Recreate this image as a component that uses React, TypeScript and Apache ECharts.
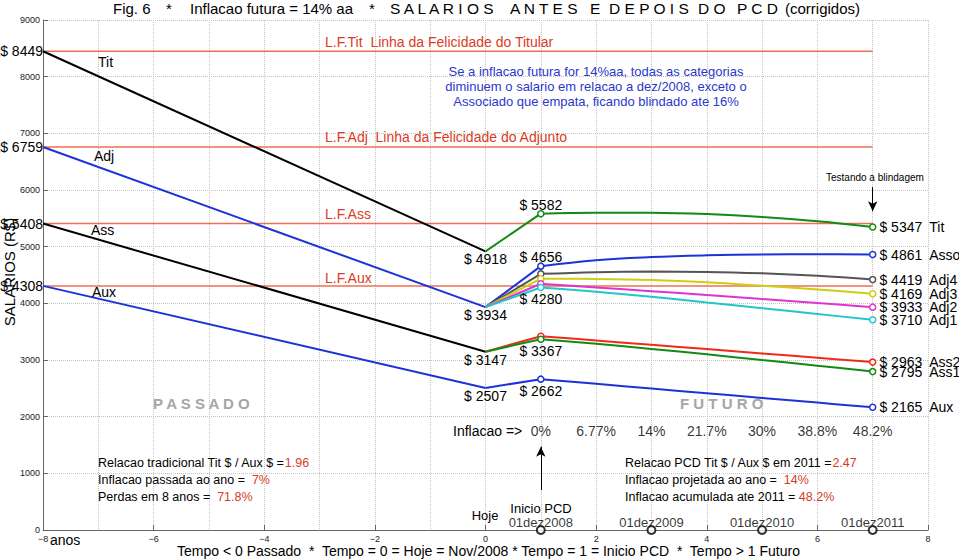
import React, { useEffect, useRef } from "react";
import * as echarts from "echarts";

const FONT = '"Liberation Sans", Arial, Helvetica, sans-serif';

// ---- Past (tempo -8 .. 0) ----
const pastX = [-8, 0];
const pastTit = [8449, 4918];
const pastAdj = [6759, 3934];
const pastAss = [5408, 3147];
const pastAux = [4308, 2507];

// ---- Future (tempo 1 .. 7) ----
const futureX = [1, 2, 3, 4, 5, 6, 7];
const futTit = [5582, 5600, 5598, 5575, 5525, 5450, 5347];
const futAsso = [4656, 4762, 4817, 4847, 4862, 4866, 4861];
const futAdj4 = [4520, 4550, 4560, 4555, 4530, 4485, 4419];
const futAdj3 = [4435, 4430, 4410, 4370, 4310, 4245, 4169];
const futAdj2 = [4345, 4280, 4215, 4145, 4075, 4005, 3933];
const futAdj1 = [4280, 4205, 4115, 4015, 3915, 3812, 3710];
const futAss2 = [3420, 3344, 3268, 3192, 3116, 3040, 2963];
const futAss1 = [3367, 3285, 3195, 3100, 3000, 2900, 2795];
const futAux = [2662, 2579, 2496, 2414, 2331, 2248, 2165];

// ---- Linhas da felicidade ----
const felicidadeX = [-8, 7];
const felicidadeVals = [8449, 6759, 5408, 4308];

// ---- Inflacao labels and dates ----
const inflacaoLabels = ["0%", "6.77%", "14%", "21.7%", "30%", "38.8%", "48.2%"];
const inflacaoLevel = 1747;
const pcdX = [1, 3, 5, 7];
const pcdDates = ["01dez2008", "01dez2009", "01dez2010", "01dez2011"];
const pcdDateLevel = 141;

const C = {
  black: "#000000",
  blue: "#1d33d8",
  green: "#138a13",
  gray: "#555555",
  yellow: "#cfcc14",
  magenta: "#dd35cf",
  cyan: "#22c6c8",
  red: "#ee2b18",
  felic: "#ef6f52",
  redText: "#d83c26",
  blueText: "#2a38cc",
};

type Fut = {
  name: string;
  start: number;
  vals: number[];
  color: string;
  lab1?: { pos: string; dist: number };
};

const futures: Fut[] = [
  { name: "Tit", start: pastTit[1], vals: futTit, color: C.green, lab1: { pos: "top", dist: -2 } },
  { name: "Asso", start: pastAdj[1], vals: futAsso, color: C.blue, lab1: { pos: "top", dist: -2 } },
  { name: "Adj4", start: pastAdj[1], vals: futAdj4, color: C.gray },
  { name: "Adj3", start: pastAdj[1], vals: futAdj3, color: C.yellow },
  { name: "Adj2", start: pastAdj[1], vals: futAdj2, color: C.magenta },
  { name: "Adj1", start: pastAdj[1], vals: futAdj1, color: C.cyan, lab1: { pos: "bottom", dist: 1 } },
  { name: "Ass2", start: pastAss[1], vals: futAss2, color: C.red },
  { name: "Ass1", start: pastAss[1], vals: futAss1, color: C.green, lab1: { pos: "bottom", dist: 1 } },
  { name: "Aux", start: pastAux[1], vals: futAux, color: C.blue, lab1: { pos: "bottom", dist: 1 } },
];

const pasts = [
  { vals: pastTit, color: C.black },
  { vals: pastAdj, color: C.blue },
  { vals: pastAss, color: C.black },
  { vals: pastAux, color: C.blue },
];

function txt(text: string, x: number, y: number, opts: any = {}) {
  return {
    type: "text",
    x,
    y,
    rotation: opts.rotation || 0,
    silent: true,
    z: 100,
    style: {
      text,
      fill: opts.fill || "#000",
      font: `${opts.weight || "normal"} ${opts.size || 14}px ${FONT}`,
      align: opts.align || "left",
      verticalAlign: "middle",
      textAlign: opts.align || "left",
      textVerticalAlign: "middle",
      rich: opts.rich,
    },
  };
}

function richLine(black: string, red: string, x: number, y: number) {
  return txt(`{k|${black}}{r|${red}}`, x, y, {
    size: 12.5,
    rich: {
      k: { fill: "#000", fontSize: 12.5, fontFamily: FONT },
      r: { fill: C.redText, fontSize: 12.5, fontFamily: FONT },
    },
  });
}

export default function App() {
  const ref = useRef<HTMLDivElement>(null);

  useEffect(() => {
    if (!ref.current) return;
    const chart = echarts.init(ref.current, undefined, { renderer: "svg" });

    const series: any[] = [];

    // felicidade lines
    felicidadeVals.forEach((v) => {
      series.push({
        type: "line",
        silent: true,
        symbol: "none",
        showSymbol: true,
        lineStyle: { color: C.felic, width: 1.5 },
        z: 2,
        data: felicidadeX.map((x, i) =>
          i === 0
            ? {
                value: [x, v],
                symbol: "circle",
                symbolSize: 0,
                label: {
                  show: true,
                  position: "left",
                  distance: 0,
                  formatter: `$ ${v}`,
                  color: "#000",
                  fontSize: 14,
                  fontFamily: FONT,
                },
              }
            : { value: [x, v] }
        ),
      });
    });

    // past lines
    pasts.forEach((p) => {
      series.push({
        type: "line",
        silent: true,
        symbol: "none",
        showSymbol: true,
        lineStyle: { color: p.color, width: 2 },
        z: 3,
        data: pastX.map((x, i) =>
          i === pastX.length - 1
            ? {
                value: [x, p.vals[i]],
                symbol: "circle",
                symbolSize: 0,
                label: {
                  show: true,
                  position: "bottom",
                  distance: 1,
                  formatter: `$ ${p.vals[i]}`,
                  color: "#000",
                  fontSize: 14,
                  fontFamily: FONT,
                },
              }
            : { value: [x, p.vals[i]] }
        ),
      });
    });

    // future lines
    futures.forEach((f) => {
      series.push({
        type: "line",
        silent: true,
        symbol: "none",
        lineStyle: { color: f.color, width: 2 },
        z: 4,
        data: [
          [0, f.start],
          [futureX[0], f.vals[0]],
        ],
      });
      const n = futureX.length;
      series.push({
        type: "line",
        silent: true,
        smooth: 0.4,
        symbol: "none",
        showSymbol: true,
        lineStyle: { color: f.color, width: 2 },
        itemStyle: { color: "#fff", borderColor: f.color, borderWidth: 1.5 },
        z: 5,
        data: futureX.map((x, i) => {
          const item: any = { value: [x, f.vals[i]] };
          if (i === 0 || i === n - 1) {
            item.symbol = "circle";
            item.symbolSize = 6;
          } else {
            item.symbol = "none";
          }
          if (i === 0 && f.lab1) {
            item.label = {
              show: true,
              position: f.lab1.pos,
              distance: f.lab1.dist,
              formatter: `$ ${f.vals[i]}`,
              color: "#000",
              fontSize: 14,
              fontFamily: FONT,
            };
          }
          if (i === n - 1) {
            item.label = {
              show: true,
              position: "right",
              distance: 3,
              formatter: `{a|$ ${f.vals[i]}}{b|${f.name}}`,
              rich: {
                a: { color: "#000", fontSize: 14, fontFamily: FONT },
                b: { color: "#000", fontSize: 14, fontFamily: FONT, padding: [0, 0, 0, 7] },
              },
            };
          }
          return item;
        }),
      });
    });

    // inflation percentages
    series.push({
      type: "scatter",
      silent: true,
      symbolSize: 0,
      clip: false,
      z: 6,
      label: {
        show: true,
        position: "inside",
        color: "#000",
        fontSize: 14,
        fontFamily: FONT,
        formatter: (p: any) => inflacaoLabels[p.dataIndex],
      },
      data: futureX.map((x) => [x, inflacaoLevel]),
    });

    // dates
    series.push({
      type: "scatter",
      silent: true,
      symbolSize: 0,
      clip: false,
      z: 6,
      label: {
        show: true,
        position: "inside",
        color: "#000",
        fontSize: 13,
        fontFamily: FONT,
        formatter: (p: any) => pcdDates[p.dataIndex],
      },
      data: pcdX.map((x) => [x, pcdDateLevel]),
    });

    // circles on the time axis
    series.push({
      type: "scatter",
      silent: true,
      symbol: "circle",
      symbolSize: 8,
      clip: false,
      z: 7,
      itemStyle: { color: "#fff", borderColor: "#000", borderWidth: 2 },
      data: pcdX.map((x) => [x, 0]),
    });

    // arrows
    series.push({
      type: "line",
      silent: true,
      symbol: "none",
      data: [],
      markLine: {
        silent: true,
        symbol: ["none", "arrow"],
        symbolSize: [7, 10],
        label: { show: false },
        lineStyle: { color: "#000", width: 1, type: "solid" },
        data: [
          [{ coord: [7, 6050] }, { coord: [7, 5625] }],
          [{ coord: [1, 706] }, { coord: [1, 1470] }],
        ],
      },
    });

    const graphic: any[] = [
      // title
      txt("Fig. 6", 113, 8, { size: 15 }),
      txt("*", 166, 8, { size: 15 }),
      txt("Inflacao futura = 14% aa", 190, 8, { size: 15 }),
      txt("*", 369, 8, { size: 15 }),
      txt("S A L A R I O S", 390, 8, { size: 15.5 }),
      txt("A N T E S", 510, 8, { size: 15.5 }),
      txt("E", 590, 8, { size: 15.5 }),
      txt("D E P O I S", 609, 8, { size: 15.5 }),
      txt("D O", 698, 8, { size: 15.5 }),
      txt("P C D", 737, 8, { size: 15.5 }),
      txt("(corrigidos)", 785, 8, { size: 15 }),
      // felicidade labels
      txt("L.F.Tit  Linha da Felicidade do Titular", 325, 42, { fill: C.redText }),
      txt("L.F.Adj  Linha da Felicidade do Adjunto", 325, 137, { fill: C.redText }),
      txt("L.F.Ass", 325, 214, { fill: C.redText }),
      txt("L.F.Aux", 325, 278, { fill: C.redText }),
      // blue note
      txt("Se a inflacao futura for 14%aa, todas as categorias", 596, 71, { fill: C.blueText, size: 13, align: "center" }),
      txt("diminuem o salario em relacao a dez/2008, exceto o", 596, 86, { fill: C.blueText, size: 13, align: "center" }),
      txt("Associado que empata, ficando blindado ate 16%", 596, 101, { fill: C.blueText, size: 13, align: "center" }),
      txt("Testando a blindagem", 826, 177, { size: 10 }),
      // category names (past)
      txt("Tit", 98, 62),
      txt("Adj", 94, 156),
      txt("Ass", 91, 230),
      txt("Aux", 92, 292),
      // passado / futuro
      txt("P A S S A D O", 153, 403, { size: 15, weight: "bold", fill: "#a6a6a6" }),
      txt("F U T U R O", 680, 403, { size: 15, weight: "bold", fill: "#a6a6a6" }),
      txt("Inflacao =>", 453, 431),
      // notes
      richLine("Relacao tradicional Tit $ / Aux $ =", "1.96", 98, 463),
      richLine("Inflacao passada ao ano =  ", "7%", 98, 480),
      richLine("Perdas em 8 anos =  ", "71.8%", 98, 497),
      richLine("Relacao PCD Tit $ / Aux $ em 2011 =", "2.47", 625, 463),
      richLine("Inflacao projetada ao ano =  ", "14%", 625, 480),
      richLine("Inflacao acumulada ate 2011 = ", "48.2%", 625, 497),
      txt("Hoje", 485, 515, { size: 13, align: "center" }),
      txt("Inicio PCD", 541, 508, { size: 13, align: "center" }),
      // axis texts
      txt("anos", 50, 540),
      txt("Tempo < 0 Passado  *  Tempo = 0 = Hoje = Nov/2008 * Tempo = 1 = Inicio PCD  *  Tempo > 1 Futuro", 177, 551),
      txt("SALARIOS (R$)", 9, 272, { size: 15, align: "center", rotation: Math.PI / 2 }),
    ];

    chart.setOption({
      animation: false,
      backgroundColor: "#ffffff",
      textStyle: { fontFamily: FONT },
      grid: { left: 43, right: 31, top: 20, bottom: 30, containLabel: false },
      xAxis: {
        type: "value",
        min: -8,
        max: 8,
        interval: 2,
        axisLine: { show: true, onZero: false, lineStyle: { color: "#666", width: 1 } },
        axisTick: { show: true, inside: true, length: 5, lineStyle: { color: "#666" } },
        axisLabel: {
          fontSize: 9,
          color: "#222",
          margin: 4,
          formatter: (v: number) => (v < 0 ? "\u2212" + -v : String(v)),
        },
        splitLine: { show: true, lineStyle: { color: "#c4c4c4", type: "dotted", width: 1 } },
        minorTick: { show: false, splitNumber: 2 },
        minorSplitLine: { show: true, lineStyle: { color: "#c4c4c4", type: "dotted", width: 1 } },
      },
      yAxis: {
        type: "value",
        min: 0,
        max: 9000,
        interval: 1000,
        axisLine: { show: true, onZero: false, lineStyle: { color: "#666", width: 1 } },
        axisTick: { show: true, inside: true, length: 5, lineStyle: { color: "#666" } },
        axisLabel: { fontSize: 9, color: "#222", margin: 3, formatter: (v: number) => String(v) },
        splitLine: { show: true, lineStyle: { color: "#c4c4c4", type: "dotted", width: 1 } },
      },
      series,
      graphic,
    });

    return () => chart.dispose();
  }, []);

  return <div ref={ref} style={{ width: 959, height: 560, position: "absolute", left: 0, top: 0 }} />;
}
